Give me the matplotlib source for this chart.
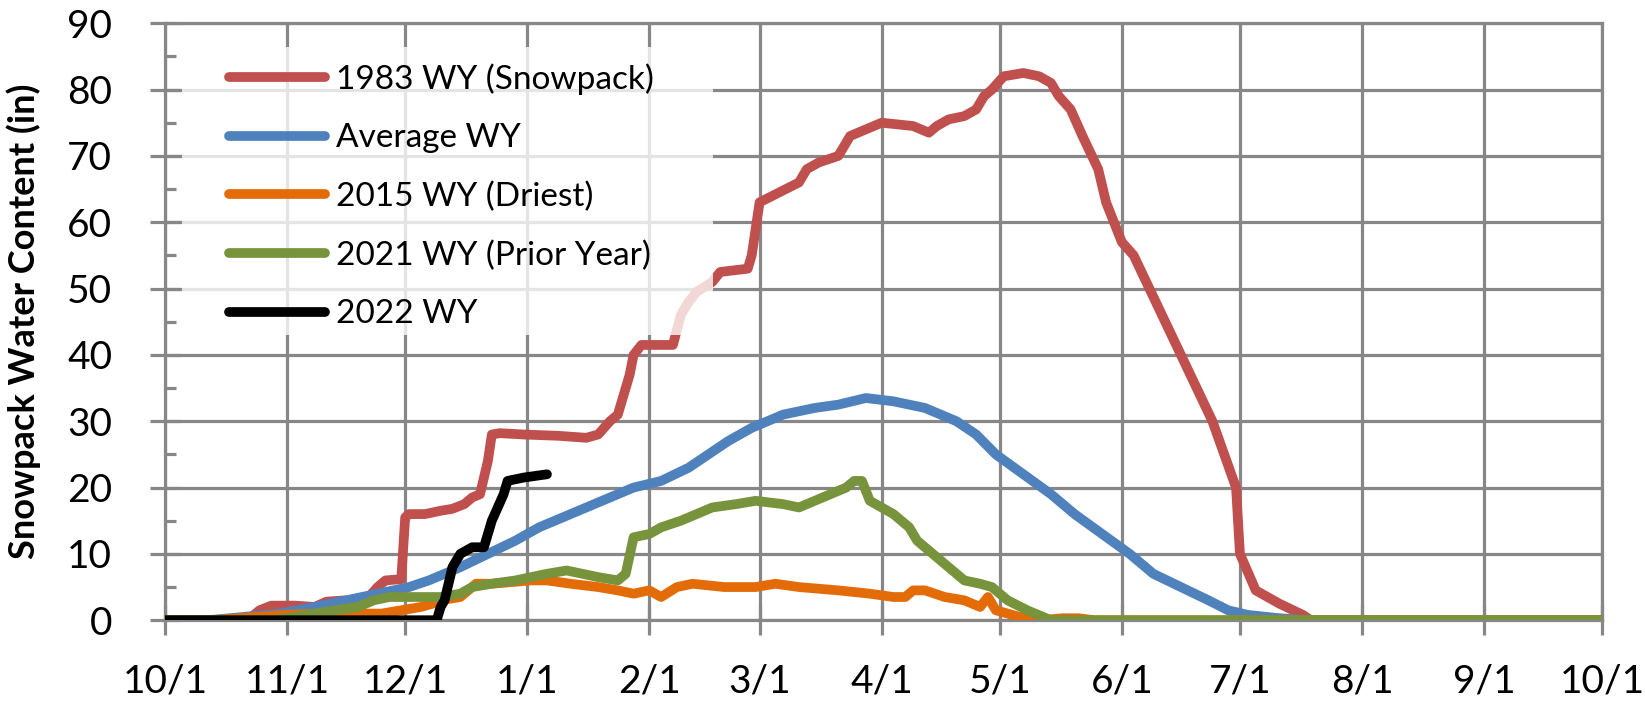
import matplotlib.pyplot as plt
from matplotlib.patches import Rectangle

# days since Oct 1 for the month gridlines / labels
month_days = [0, 31, 61, 92, 123, 151, 182, 212, 243, 273, 304, 335, 365]
month_labels = ["10/1", "11/1", "12/1", "1/1", "2/1", "3/1", "4/1",
                "5/1", "6/1", "7/1", "8/1", "9/1", "10/1"]

# 1983 WY (Snowpack)
wy1983_day = [0, 21, 24, 27, 33, 38, 41, 46, 51, 54, 56, 60, 61, 62, 66, 70, 73,
              76, 78, 80, 82, 83, 85, 91, 100, 107, 110, 113, 115, 117, 118, 119,
              121, 129, 131, 133, 135, 139, 141, 148, 149, 151, 156, 161, 163, 166,
              171, 174, 178, 182, 190, 194, 196, 199, 203, 206, 208, 210, 213, 218,
              222, 225, 227, 230, 233, 237, 239, 243, 246, 250, 254, 258, 262, 266,
              269, 272, 273, 277, 283, 289, 291, 365]
wy1983_val = [0, 0, 1.5, 2.2, 2.2, 2.0, 2.8, 3.0, 3.0, 5.0, 6.0, 6.2, 15.5, 16.0,
              16.0, 16.5, 16.8, 17.5, 18.5, 19.0, 24.0, 28.0, 28.2, 28.0, 27.8, 27.5,
              28.0, 30.0, 31.0, 35.0, 37.0, 40.0, 41.5, 41.5, 46.0, 48.0, 49.5, 51.0,
              52.5, 53.0, 55.0, 63.0, 64.5, 66.0, 68.0, 69.0, 70.0, 73.0, 74.0, 75.0,
              74.5, 73.5, 74.5, 75.5, 76.0, 77.0, 79.0, 80.0, 82.0, 82.5, 82.0, 81.0,
              79.0, 77.0, 73.0, 68.0, 63.0, 57.0, 55.0, 50.0, 45.0, 40.0, 35.0, 30.0,
              25.0, 20.0, 10.0, 4.5, 2.5, 0.8, 0, 0]

# Average WY
avg_day = [0, 11, 20, 29, 38, 46, 54, 62, 67, 75, 82, 89, 95, 103, 111, 119, 126,
           133, 138, 143, 149, 157, 165, 171, 178, 185, 193, 201, 206, 211, 218,
           225, 231, 238, 245, 251, 258, 265, 270, 275, 283, 291, 365]
avg_val = [0, 0, 0.5, 1.0, 2.0, 3.0, 4.0, 5.0, 6.0, 8.0, 10.0, 12.0, 14.0, 16.0,
           18.0, 20.0, 21.0, 23.0, 25.0, 27.0, 29.0, 31.0, 32.0, 32.5, 33.5, 33.0,
           32.0, 30.0, 28.0, 25.0, 22.0, 19.0, 16.0, 13.0, 10.0, 7.0, 5.0, 3.0,
           1.5, 0.8, 0.3, 0, 0]

# 2015 WY (Driest)
wy2015_day = [0, 12, 30, 40, 55, 60, 65, 68, 70, 75, 76, 79, 83, 89, 93, 97, 103,
              110, 115, 119, 123, 126, 130, 134, 142, 150, 155, 161, 171, 179, 185,
              188, 190, 193, 198, 203, 207, 209, 211, 217, 222, 228, 232, 236, 365]
wy2015_val = [0, 0, 0.8, 1.0, 1.0, 1.5, 2.0, 2.5, 3.0, 3.5, 4.0, 5.5, 5.5, 5.8,
              6.0, 6.0, 5.5, 5.0, 4.5, 4.0, 4.5, 3.5, 5.0, 5.5, 5.0, 5.0, 5.5, 5.0,
              4.5, 4.0, 3.5, 3.5, 4.5, 4.5, 3.5, 3.0, 2.0, 3.5, 1.5, 0.5, 0, 0.3,
              0.3, 0, 0]

# 2021 WY (Prior Year)
wy2021_day = [0, 27, 33, 38, 43, 49, 53, 57, 70, 75, 78, 83, 89, 93, 97, 102, 106,
              110, 115, 117, 119, 123, 126, 131, 135, 139, 145, 150, 157, 161, 165,
              169, 173, 175, 177, 179, 185, 189, 191, 195, 199, 203, 207, 210, 214,
              219, 225, 365]
wy2021_val = [0, 0, 0.5, 1.0, 1.5, 2.0, 3.0, 3.5, 3.5, 4.0, 5.0, 5.5, 6.0, 6.5,
              7.0, 7.5, 7.0, 6.5, 6.0, 7.0, 12.5, 13.0, 14.0, 15.0, 16.0, 17.0,
              17.5, 18.0, 17.5, 17.0, 18.0, 19.0, 20.0, 21.0, 21.0, 18.0, 16.0, 14.0,
              12.0, 10.0, 8.0, 6.0, 5.5, 5.0, 3.0, 1.5, 0, 0]

# 2022 WY
wy2022_day = [0, 69, 70, 71, 73, 75, 78, 81, 83, 86, 87, 91, 97]
wy2022_val = [0, 0, 2.0, 3.0, 8.0, 10.0, 11.0, 11.0, 15.0, 19.0, 21.0, 21.5, 22.0]

fig = plt.figure(figsize=(16.45, 7.04), dpi=100)
ax = fig.add_axes([0.1003, 0.119, 0.8737, 0.848])

lw = 7
style = dict(lw=lw, solid_capstyle="round", solid_joinstyle="round", zorder=3)
ax.plot(wy1983_day, wy1983_val, color="#C0504D", label="1983 WY (Snowpack)", **style)
ax.plot(avg_day, avg_val, color="#4F81BD", label="Average WY", **style)
ax.plot(wy2015_day, wy2015_val, color="#E36C09", label="2015 WY (Driest)", **style)
ax.plot(wy2021_day, wy2021_val, color="#77933C", label="2021 WY (Prior Year)", **style)
ax.plot(wy2022_day, wy2022_val, color="black", label="2022 WY", **style)

grid_col = "#878787"
ax.set_xlim(0, 365)
ax.set_ylim(0, 90)
ax.set_xticks(month_days)
ax.set_xticklabels(month_labels)
ax.set_yticks(range(0, 91, 10))
ax.set_yticks(range(5, 90, 10), minor=True)
ax.grid(True, which="major", color=grid_col, lw=2.3, zorder=0)
ax.set_axisbelow(True)
for sp in ax.spines.values():
    sp.set_color(grid_col)
    sp.set_linewidth(2.3)

ax.tick_params(which="major", direction="inout", length=22, width=2.3,
               color=grid_col, labelsize=28)
ax.tick_params(axis="y", which="major", pad=27)
ax.tick_params(axis="x", which="major", pad=20)
ax.tick_params(which="minor", direction="in", length=8, width=2.3, color=grid_col)
for lab in ax.get_xticklabels() + ax.get_yticklabels():
    lab.set_fontfamily("Lato")

ax.set_ylabel("Snowpack Water Content (in)", fontsize=26, fontweight="bold",
              fontfamily="Lato")
ax.yaxis.set_label_coords(-0.086, 0.5)

# semi-transparent legend backdrop
ax.add_patch(Rectangle((0.012, 0.478), 0.369, 0.482, transform=ax.transAxes,
                       facecolor="white", alpha=0.78, edgecolor="none", zorder=4))
leg = ax.legend(loc="upper left", bbox_to_anchor=(0.035, 0.955), frameon=False,
                prop={"family": "Lato", "size": 24}, handlelength=2.9,
                handletextpad=0.33, labelspacing=0.85, borderaxespad=0)
leg.set_zorder(5)

plt.savefig("out.png", dpi=100)
